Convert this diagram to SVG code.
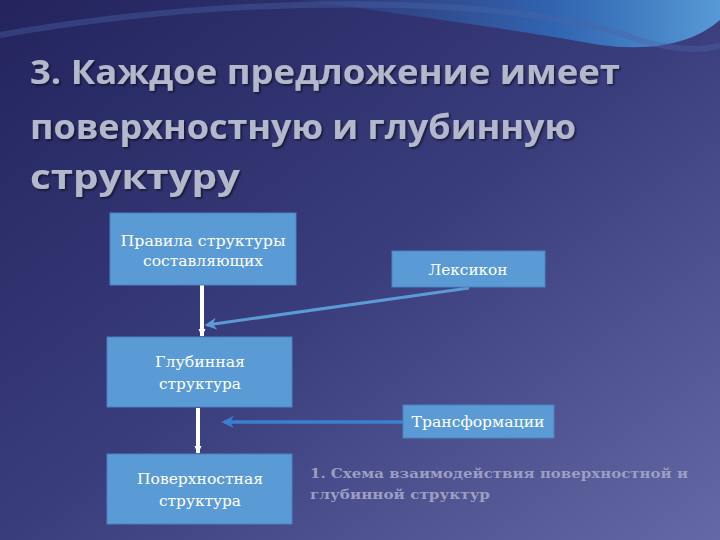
<svg xmlns="http://www.w3.org/2000/svg" width="720" height="540" viewBox="0 0 720 540">
<defs>
<linearGradient id="bg" x1="0" y1="0" x2="1" y2="1">
<stop offset="0" stop-color="#23245e"/>
<stop offset="0.5" stop-color="#3a3d7c"/>
<stop offset="1" stop-color="#6468a4"/>
</linearGradient>
<linearGradient id="wave" x1="0" y1="0" x2="1" y2="0">
<stop offset="0" stop-color="#2f4c8e" stop-opacity="0.3"/>
<stop offset="0.6" stop-color="#2f6fbf" stop-opacity="0.8"/>
<stop offset="1" stop-color="#5aa4e0" stop-opacity="0.9"/>
</linearGradient>
<marker id="wa" viewBox="0 0 10 10" refX="8" refY="5" markerWidth="2.2" markerHeight="2.2" orient="auto"><path d="M0,1 L9,5 L0,9 z" fill="#ffffff"/></marker>
<marker id="ba" viewBox="0 0 10 10" refX="8" refY="5" markerWidth="4" markerHeight="4" orient="auto"><path d="M0,0 L10,5 L0,10 L3,5 z" fill="#5b9bd5"/></marker>
<marker id="ba2" viewBox="0 0 10 10" refX="8" refY="5" markerWidth="3.5" markerHeight="3.5" orient="auto"><path d="M0,0 L10,5 L0,10 L3,5 z" fill="#3b7fd0"/></marker>
<filter id="sh" x="-5%" y="-5%" width="110%" height="120%"><feDropShadow dx="1.5" dy="1.5" stdDeviation="1" flood-color="#000" flood-opacity="0.6"/></filter>
</defs>
<style>
.box{fill:#5b9bd5;stroke:#4a82c0;stroke-width:1}
.bt{font-family:"DejaVu Serif","Liberation Serif",serif;font-size:15px;fill:#ffffff;text-anchor:middle}
.title{font-family:"Open Sans","Noto Sans","Liberation Sans",sans-serif;font-weight:bold;font-size:34px;fill:#b4b8cc}
.cap{font-family:"DejaVu Serif","Liberation Serif",serif;font-weight:bold;font-size:13.5px;fill:#9c9ec4}
</style>
<rect width="720" height="540" fill="url(#bg)"/>
<path d="M300,0 Q520,30 600,45 Q680,55 720,20 L720,0 Z" fill="url(#wave)"/>
<path d="M0,35 Q200,0 400,5 Q560,10 640,40 Q690,55 720,45" fill="none" stroke="#4a64a8" stroke-opacity="0.4" stroke-width="6"/>
<g id="title" filter="url(#sh)">
<text class="title" x="30" y="84" textLength="590" lengthAdjust="spacingAndGlyphs">3. Каждое предложение имеет</text>
<text class="title" x="30" y="139" textLength="546" lengthAdjust="spacingAndGlyphs">поверхностную и глубинную</text>
<text class="title" x="30" y="189" textLength="210" lengthAdjust="spacingAndGlyphs">структуру</text>
</g>
<g id="connectors">
<line x1="202" y1="285" x2="202" y2="336" stroke="#ffffff" stroke-width="4" marker-end="url(#wa)"/>
<line x1="198" y1="408" x2="198" y2="453" stroke="#ffffff" stroke-width="4" marker-end="url(#wa)"/>
<line x1="469" y1="288" x2="207" y2="325" stroke="#5b9bd5" stroke-width="3" marker-end="url(#ba)"/>
<line x1="403" y1="422" x2="224" y2="422" stroke="#3b7fd0" stroke-width="3.5" marker-end="url(#ba2)"/>
</g>
<g id="n1"><rect class="box" x="110" y="213" width="186" height="72"/>
<text class="bt" x="203" y="246" textLength="165" lengthAdjust="spacingAndGlyphs">Правила  структуры</text><text class="bt" x="203" y="266" textLength="120" lengthAdjust="spacingAndGlyphs">составляющих</text></g>
<g id="n2"><rect class="box" x="392" y="251" width="153" height="36"/>
<text class="bt" x="468" y="275" textLength="79" lengthAdjust="spacingAndGlyphs">Лексикон</text></g>
<g id="n3"><rect class="box" x="107" y="337" width="185" height="70"/>
<text class="bt" x="200" y="367" textLength="90" lengthAdjust="spacingAndGlyphs">Глубинная</text><text class="bt" x="200" y="389" textLength="82" lengthAdjust="spacingAndGlyphs">структура</text></g>
<g id="n4"><rect class="box" x="403" y="405" width="151" height="33"/>
<text class="bt" x="478" y="427" textLength="133" lengthAdjust="spacingAndGlyphs">Трансформации</text></g>
<g id="n5"><rect class="box" x="107" y="454" width="185" height="70"/>
<text class="bt" x="200" y="484" textLength="126" lengthAdjust="spacingAndGlyphs">Поверхностная</text><text class="bt" x="200" y="506" textLength="82" lengthAdjust="spacingAndGlyphs">структура</text></g>
<g id="caption">
<text class="cap" x="310" y="478" textLength="378" lengthAdjust="spacingAndGlyphs">1. Схема взаимодействия поверхностной и</text>
<text class="cap" x="310" y="499" textLength="180" lengthAdjust="spacingAndGlyphs">глубинной структур</text>
</g>
</svg>
